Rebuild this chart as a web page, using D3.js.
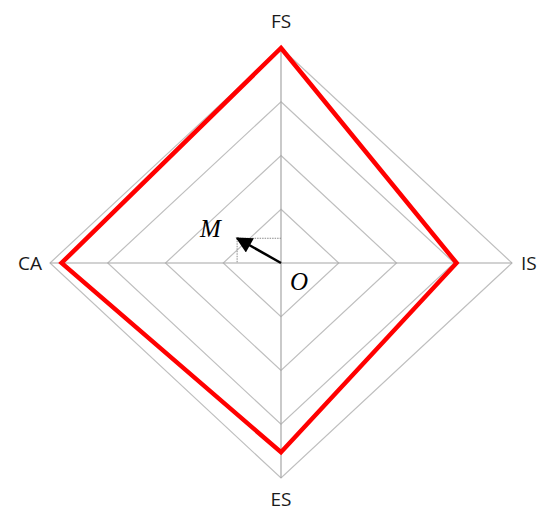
<!DOCTYPE html>
<html lang="en">
<head>
<meta charset="UTF-8">
<title>Radar</title>
<style>
  body { margin: 0; background: #fff; }
  svg { display: block; }
</style>
<script src="https://cdn.jsdelivr.net/npm/d3@7"></script>
</head>
<body>
<div id="chart"></div>
<script>
// axes in drawing order: top, right, bottom, left
const axisNames = ["FS", "IS", "ES", "CA"];
const seriesValues = [1.0, 0.76, 0.88, 0.95];
const gridLevels = [0.25, 0.5, 0.75, 1.0];
// vector M in (horizontal, vertical) value units
const pointM = [-0.19, 0.115];

const width = 540, height = 513;

const svg = d3.select("#chart").append("svg")
  .attr("width", width)
  .attr("height", height);

// horizontal and vertical radii are not equal in the picture
const x = d3.scaleLinear().domain([-1, 1]).range([50, 512]);
const y = d3.scaleLinear().domain([-1, 1]).range([478, 48]);

// direction of each axis in value space
const dirs = [[0, 1], [1, 0], [0, -1], [-1, 0]];

const toPts = vals => vals.map((v, i) => [x(dirs[i][0] * v), y(dirs[i][1] * v)]);
const closed = d3.line().curve(d3.curveLinearClosed);

// grid diamonds
svg.append("g")
  .selectAll("path")
  .data(gridLevels)
  .join("path")
  .attr("d", l => closed(toPts(dirs.map(() => l))))
  .attr("fill", "none")
  .attr("stroke", "#bfbfbf")
  .attr("stroke-width", 1.2);

// axis lines
svg.append("g")
  .selectAll("line")
  .data([[[-1, 0], [1, 0]], [[0, -1], [0, 1]]])
  .join("line")
  .attr("x1", d => x(d[0][0])).attr("y1", d => y(d[0][1]))
  .attr("x2", d => x(d[1][0])).attr("y2", d => y(d[1][1]))
  .attr("stroke", "#a6a6a6")
  .attr("stroke-width", 1.2);

// series polygon
svg.append("path")
  .attr("d", closed(toPts(seriesValues)))
  .attr("fill", "none")
  .attr("stroke", "#ff0000")
  .attr("stroke-width", 4.5)
  .attr("stroke-linejoin", "miter");

// axis labels
const labelPos = [
  [x(0), 21, "middle"],
  [x(1) + 9, y(0), "start"],
  [x(0), 499, "middle"],
  [x(-1) - 8, y(0), "end"]
];
svg.append("g")
  .selectAll("text")
  .data(axisNames)
  .join("text")
  .attr("x", (d, i) => labelPos[i][0])
  .attr("y", (d, i) => labelPos[i][1])
  .attr("text-anchor", (d, i) => labelPos[i][2])
  .attr("dominant-baseline", "central")
  .attr("font-family", "Open Sans, Liberation Sans, sans-serif")
  .attr("font-size", 19)
  .attr("fill", "#1a1a1a")
  .text(d => d);

// dotted projections of M
const mx = x(pointM[0]), my = y(pointM[1]);
svg.append("path")
  .attr("d", `M${mx},${my}H${x(0)}M${mx},${my}V${y(0)}`)
  .attr("fill", "none")
  .attr("stroke", "#8c8c8c")
  .attr("stroke-width", 1)
  .attr("stroke-dasharray", "1.5,1");

// arrow O -> M
svg.append("defs").append("marker")
  .attr("id", "head")
  .attr("viewBox", "0 0 10 10")
  .attr("refX", 9).attr("refY", 5)
  .attr("markerWidth", 7).attr("markerHeight", 6.5)
  .attr("markerUnits", "strokeWidth")
  .attr("orient", "auto")
  .append("path")
  .attr("d", "M0,0L10,5L0,10z")
  .attr("fill", "#000");

svg.append("line")
  .attr("x1", x(0)).attr("y1", y(0))
  .attr("x2", mx).attr("y2", my)
  .attr("stroke", "#000")
  .attr("stroke-width", 2.5)
  .attr("marker-end", "url(#head)");

// point labels
svg.append("text")
  .attr("x", mx - 37).attr("y", my - 1)
  .attr("font-family", "Liberation Serif, serif")
  .attr("font-style", "italic")
  .attr("font-size", 25)
  .attr("fill", "#000")
  .text("M");
svg.append("text")
  .attr("x", x(0) + 9).attr("y", y(0) + 27)
  .attr("font-family", "Liberation Serif, serif")
  .attr("font-style", "italic")
  .attr("font-size", 25)
  .attr("fill", "#000")
  .text("O");
</script>
</body>
</html>
